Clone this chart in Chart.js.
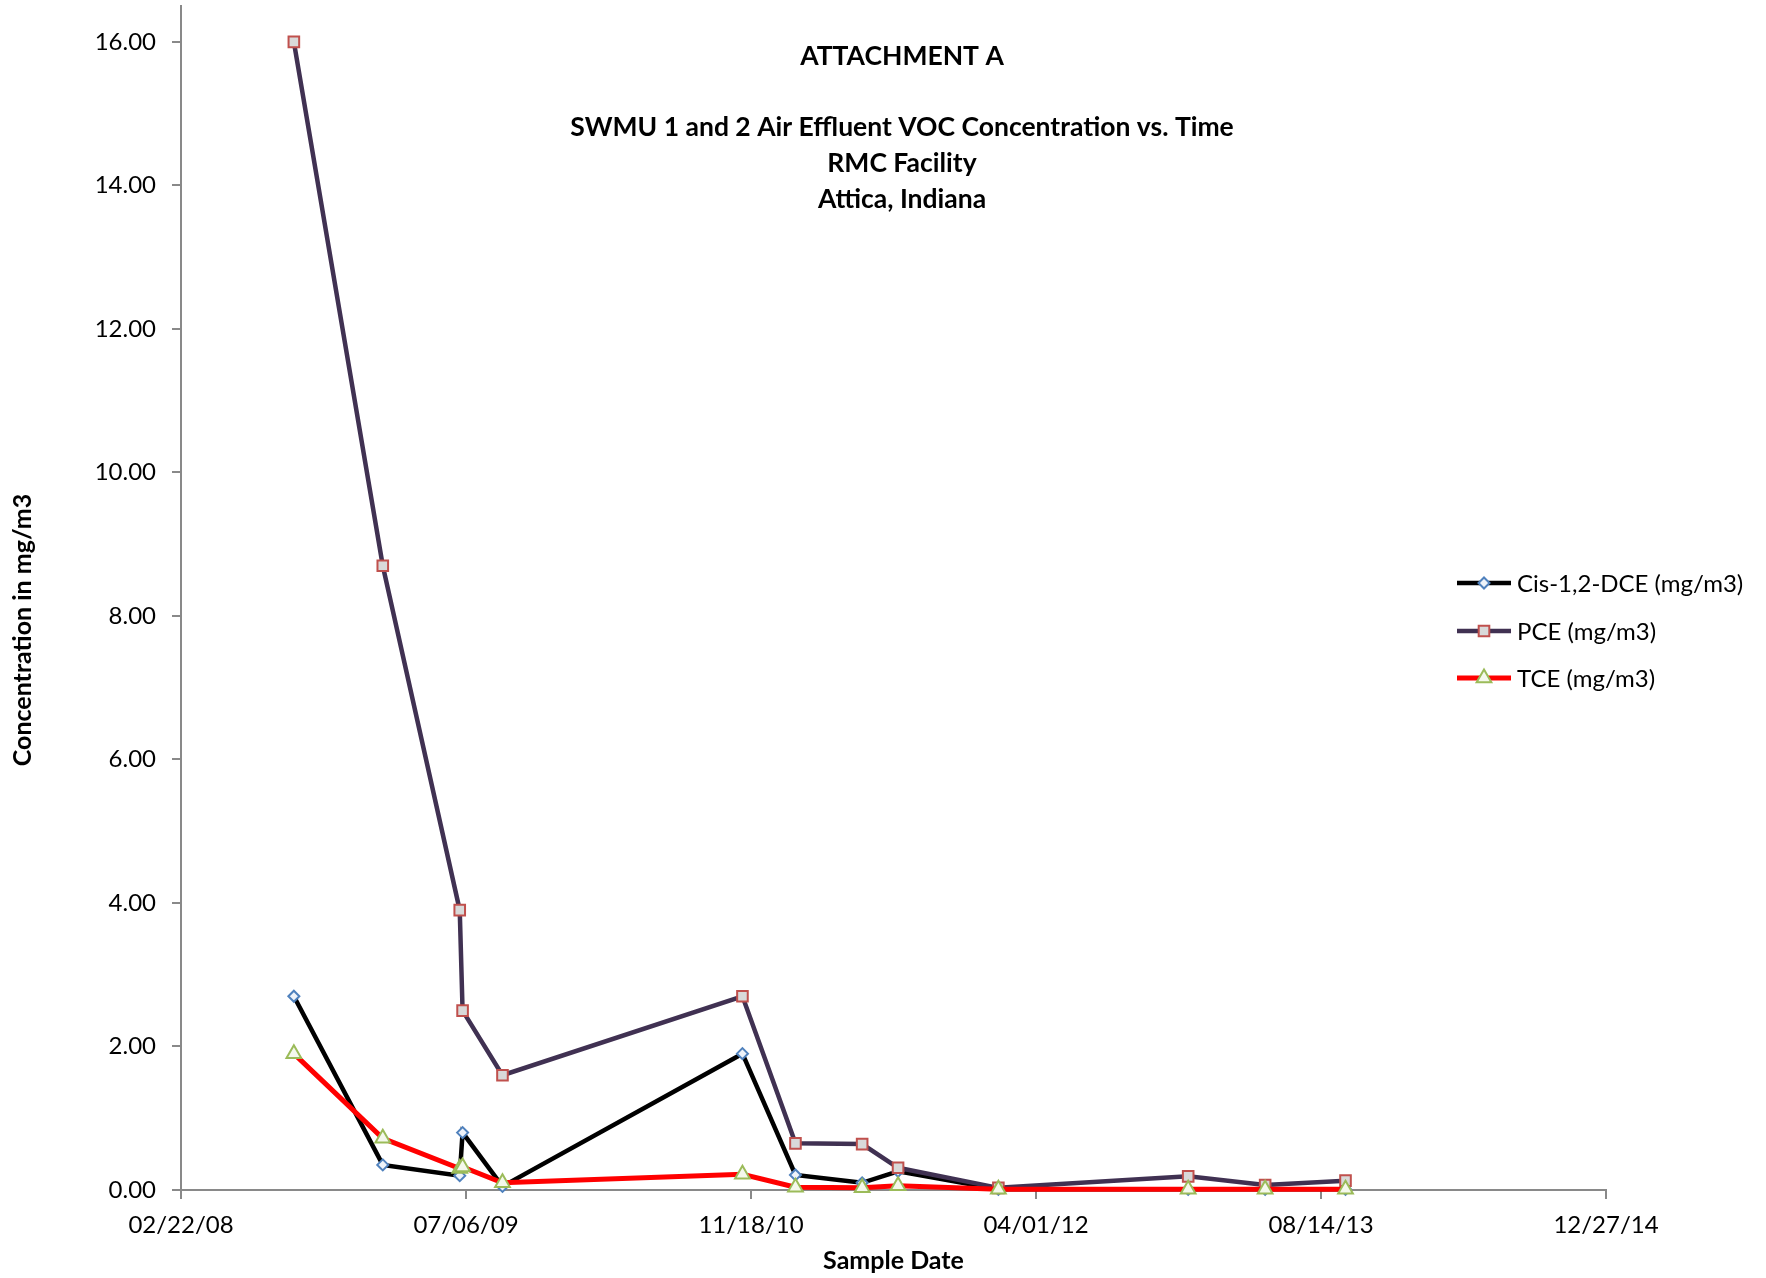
<!DOCTYPE html>
<html><head><meta charset="utf-8">
<script src="https://cdn.jsdelivr.net/npm/chart.js@4.4.1/dist/chart.umd.min.js"></script>
<style>html,body{margin:0;padding:0;background:#fff}#wrap{width:1766px;height:1278px;position:relative}</style>
</head><body><div id="wrap"><canvas id="c"></canvas></div>
<script>
// ---- data ----
const sampleDates = ['2008-09-07','2009-02-10','2009-06-25','2009-06-30','2009-09-08','2010-11-03','2011-02-04','2011-06-01','2011-08-03','2012-01-26','2012-12-24','2013-05-08','2013-09-26'];
const cisDCE = [2.70, 0.35, 0.20, 0.80, 0.05, 1.90, 0.21, 0.10, 0.26, 0.01, 0.01, 0.01, 0.01];
const pce    = [16.00, 8.70, 3.90, 2.50, 1.60, 2.70, 0.65, 0.64, 0.31, 0.03, 0.19, 0.07, 0.13];
const tce    = [1.90, 0.72, 0.30, 0.32, 0.10, 0.22, 0.04, 0.03, 0.06, 0.01, 0.01, 0.01, 0.01];
const seriesNames = ['Cis-1,2-DCE (mg/m3)', 'PCE (mg/m3)', 'TCE (mg/m3)'];
const xAxisStart = '2008-02-22', xAxisEnd = '2014-12-27', xStepDays = 500;
const yMin = 0, yMax = 16.5, yStep = 2;
const titleLines = ['ATTACHMENT A', '', 'SWMU 1 and 2 Air Effluent VOC Concentration vs. Time', 'RMC Facility', 'Attica, Indiana'];
const xTitle = 'Sample Date', yTitle = 'Concentration in mg/m3';

// ---- helpers ----
const EPOCH = Date.UTC(1899, 11, 30);
function toSerial(s){ const p = s.split('-').map(Number); return (Date.UTC(p[0], p[1]-1, p[2]) - EPOCH) / 86400000; }
function fmtSerial(v){ const d = new Date(EPOCH + Math.round(v) * 86400000); const mm = String(d.getUTCMonth()+1).padStart(2,'0'); const dd = String(d.getUTCDate()).padStart(2,'0'); const yy = String(d.getUTCFullYear() % 100).padStart(2,'0'); return mm + '/' + dd + '/' + yy; }
const xs = sampleDates.map(toSerial);
const pts = arr => arr.map((v, i) => ({x: xs[i], y: v}));

const FONT = 'Lato, "Open Sans", sans-serif';
const styles = [
  {line:'#000000', fill:'#EEF3FA', border:'#4F81BD', pointStyle:'rectRot', radius:5.5, lw:4.5},
  {line:'#403152', fill:'#D9D9D9', border:'#C0504D', pointStyle:'rect', radius:7.5, lw:4.5},
  {line:'#FF0000', fill:'#F4F8EC', border:'#9BBB59', pointStyle:'triangle', radius:8.5, lw:5}
];
const values = [cisDCE, pce, tce];
const titleY = [56, 0, 127.5, 163.5, 199.5];

const overlay = {
  id: 'overlay',
  afterDraw(chart){
    const ctx = chart.ctx, a = chart.chartArea;
    ctx.save();
    ctx.fillStyle = '#000';
    ctx.textAlign = 'center';
    ctx.textBaseline = 'middle';
    ctx.font = 'bold 26.5px ' + FONT;
    titleLines.forEach((t, i) => { if (t) ctx.fillText(t, 902, titleY[i]); });
    ctx.font = 'bold 25px ' + FONT;
    ctx.fillText(xTitle, (a.left + a.right) / 2, 1261);
    ctx.save();
    ctx.translate(23, 630);
    ctx.rotate(-Math.PI / 2);
    ctx.fillText(yTitle, 0, 0);
    ctx.restore();
    // legend
    const rows = [583, 631, 678];
    ctx.textAlign = 'left';
    ctx.font = '24px ' + FONT;
    styles.forEach((s, i) => {
      const y = rows[i];
      ctx.strokeStyle = s.line; ctx.lineWidth = s.lw;
      ctx.beginPath(); ctx.moveTo(1457, y); ctx.lineTo(1511, y); ctx.stroke();
      ctx.fillStyle = s.fill; ctx.strokeStyle = s.border; ctx.lineWidth = 2;
      Chart.helpers.drawPoint(ctx, {pointStyle: s.pointStyle, radius: s.radius, borderWidth: 2, rotation: 0}, 1484, y);
      ctx.fillStyle = '#000';
      ctx.fillText(seriesNames[i], 1517, y + 1);
    });
    ctx.restore();
  }
};

new Chart(document.getElementById('c'), {
  type: 'line',
  data: {
    datasets: values.map((arr, i) => ({
      label: seriesNames[i],
      data: pts(arr),
      borderColor: styles[i].line,
      borderWidth: styles[i].lw,
      backgroundColor: styles[i].fill,
      pointBackgroundColor: styles[i].fill,
      pointBorderColor: styles[i].border,
      pointBorderWidth: 2,
      pointStyle: styles[i].pointStyle,
      pointRadius: styles[i].radius,
      pointHoverRadius: styles[i].radius,
      tension: 0,
      fill: false,
      clip: false,
      order: 3 - i
    }))
  },
  options: {
    responsive: true,
    maintainAspectRatio: false,
    animation: false,
    events: [],
    layout: {autoPadding: false, padding: {left: 0, top: 6, right: 160, bottom: 0}},
    plugins: {legend: {display: false}, title: {display: false}, tooltip: {enabled: false}},
    scales: {
      x: {
        type: 'linear',
        min: toSerial(xAxisStart),
        max: toSerial(xAxisEnd),
        afterFit: s => { s.height = 88; s.paddingLeft = 0; s.paddingRight = 0; },
        ticks: {stepSize: xStepDays, color: '#000', font: {family: FONT, size: 24}, padding: 12, maxRotation: 0, autoSkip: false, callback: v => fmtSerial(v)},
        grid: {drawOnChartArea: false, drawTicks: true, tickLength: 9, color: '#898989', lineWidth: 2},
        border: {display: true, color: '#898989', width: 2}
      },
      y: {
        type: 'linear',
        min: yMin,
        max: yMax,
        afterFit: s => { s.width = 181; s.paddingTop = 0; s.paddingBottom = 0; },
        ticks: {stepSize: yStep, includeBounds: false, color: '#000', font: {family: FONT, size: 24}, padding: 16, callback: v => Number(v).toFixed(2)},
        grid: {drawOnChartArea: false, drawTicks: true, tickLength: 9, color: '#898989', lineWidth: 2},
        border: {display: true, color: '#898989', width: 2}
      }
    }
  },
  plugins: [overlay]
});
</script></body></html>
